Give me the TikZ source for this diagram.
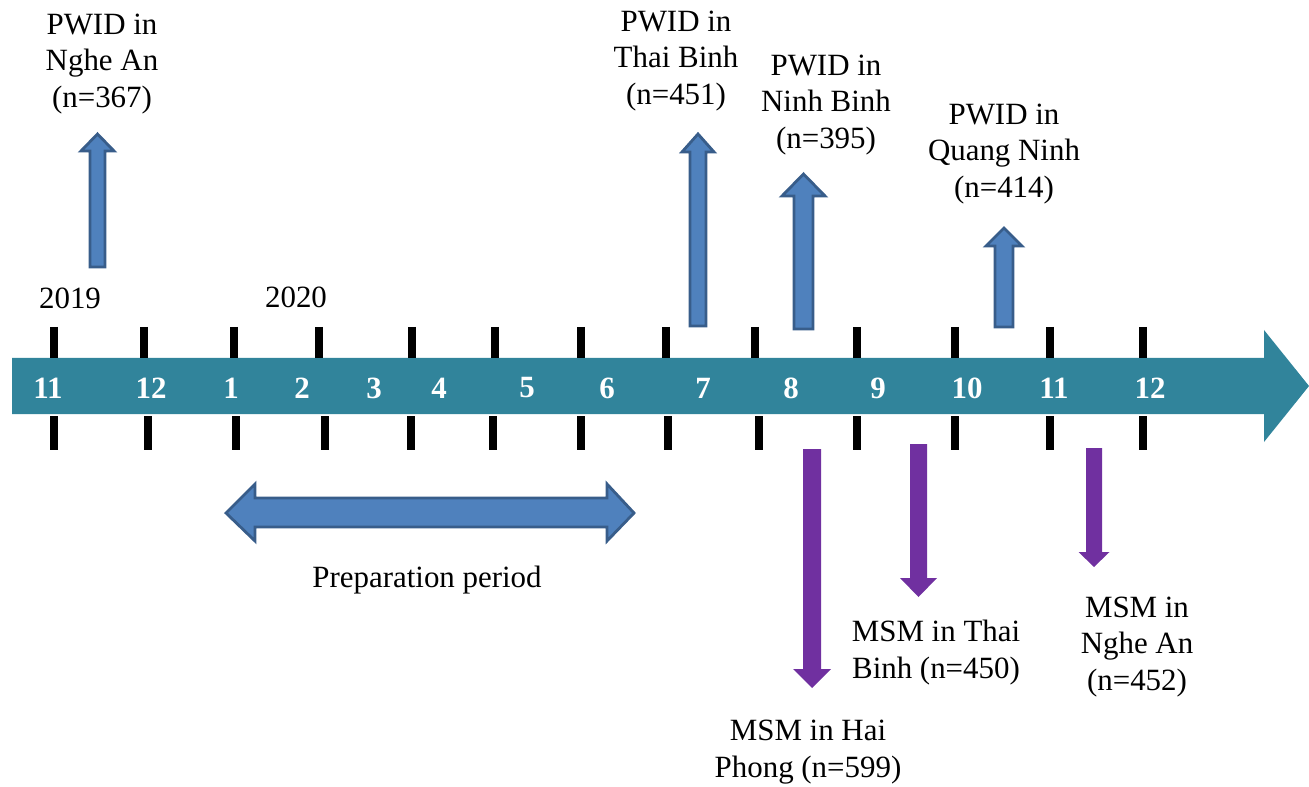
\documentclass[tikz,border=0pt]{standalone}
\usepackage{fontspec}
\setmainfont{Liberation Serif}
\newfontfamily\tnr{Liberation Serif}
\usepackage{xcolor}
\usepackage{tikz}
\usetikzlibrary{positioning, calc}
\definecolor{band}{HTML}{31849B}
\definecolor{upfill}{HTML}{4F81BD}
\definecolor{upline}{HTML}{385D8A}
\definecolor{msm}{HTML}{7030A0}

\tikzset{
  lbl/.style={align=center, inner sep=0pt, font=\tnr\fontsize{17.6}{21}\selectfont},
  month/.style={inner sep=0pt, text=white, font=\tnr\fontsize{17.6}{21}\selectfont\bfseries},
  tick/.style={draw=black, line width=4pt},
  upblock/.style={draw=upline, fill=upfill, line width=1.6pt, line join=miter},
  downblock/.style={fill=msm},
}

\begin{document}
\begin{tikzpicture}[x=0.02cm, y=-0.02cm]
  \useasboundingbox (0,0) rectangle (1309,787);
  % timeline band
  \fill[band] (12,358) -- (1264,358) -- (1264,330) -- (1309,386)
    -- (1264,442) -- (1264,414) -- (12,414) -- cycle;
  \foreach \x in {54,144,234,319,412,495,581,666,755,857,955,1050,1143}
    \draw[tick] (\x,327) -- (\x,358);
  \foreach \x in {54,148,236,325,411,493,581,668,759,857,955,1050,1143}
    \draw[tick] (\x,416) -- (\x,450);
  \foreach \m/\x [count=\i] in {11/48, 12/151, 1/231, 2/302, 3/374, 4/439,
      5/527, 6/607, 7/703, 8/791, 9/878, 10/967, 11/1054, 12/1150}
    \node[month] (m\i) at (\x,388) {\m};
  \node[lbl] (y2019) at (70,298) {2019};
  \node[lbl] (y2020) at (296,297) {2020};

  % PWID surveys
  \foreach \x/\yb/\yt/\yh/\s/\h in {97.5/267/134/151/7.5/16.5, 698/326/134/152/8/16,
      803.5/329/174/196/9.5/21.5, 1004/327/228/246/9/18}
    \draw[upblock] (\x-\s,\yb) -- (\x-\s,\yh) -- (\x-\h,\yh) -- (\x,\yt)
      -- (\x+\h,\yh) -- (\x+\s,\yh) -- (\x+\s,\yb) -- cycle;
  \node[lbl] (pwidNA) at (102,64) {PWID in\\Nghe An\\(n=367)};
  \node[lbl] (pwidTB) at (676,61) {PWID in\\Thai Binh\\(n=451)};
  \node[lbl] (pwidNB) at (826,105) {PWID in\\Ninh Binh\\(n=395)};
  \node[lbl] (pwidQN) at (1004,154) {PWID in\\Quang Ninh\\(n=414)};

  % MSM surveys
  \foreach \x/\yt/\yb/\yh/\s/\h in {812/449/688/669/9/19, 918.5/444/597/578/8.5/18.5,
      1094/448/567/552/8/15.5}
    \fill[downblock] (\x-\s,\yt) -- (\x-\s,\yh) -- (\x-\h,\yh) -- (\x,\yb)
      -- (\x+\h,\yh) -- (\x+\s,\yh) -- (\x+\s,\yt) -- cycle;
  \node[lbl] (msmHP) at (808,752) {MSM in Hai\\Phong (n=599)};
  \node[lbl] (msmTB) at (936,653) {MSM in Thai\\Binh (n=450)};
  \node[lbl] (msmNA) at (1137,647) {MSM in\\Nghe An\\(n=452)};

  % preparation
  \draw[upblock] (226,513) -- (255,484) -- (255,498) -- (607,498) -- (607,484)
    -- (634,513) -- (607,541) -- (607,527) -- (255,527) -- (255,541) -- cycle;
  \node[lbl] (prep) at (427,580) {Preparation period};
\end{tikzpicture}
\end{document}
